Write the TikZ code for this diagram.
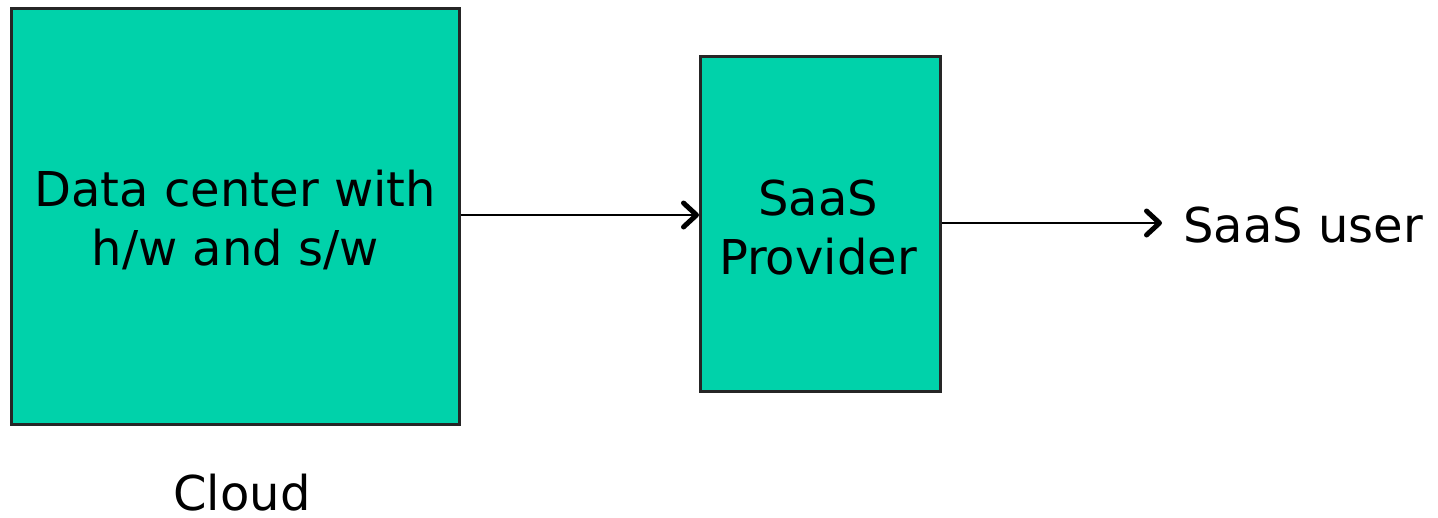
\documentclass[tikz,border=0pt]{standalone}
\usepackage{fontspec}
\setmainfont{DejaVu Sans}
\usetikzlibrary{arrows.meta}
\definecolor{boxfill}{RGB}{0,210,170}
\begin{document}
\begin{tikzpicture}[x=1pt,y=-1pt,
  block/.style={draw=black!85, line width=2.5pt, fill=boxfill, inner sep=0pt},
  label/.style={font=\fontsize{48}{59}\selectfont, align=center, text=black},
  link/.style={line width=2.2pt, -{Straight Barb[length=13pt,width=24pt,line width=5pt,round]}}]
  \useasboundingbox (0,0) rectangle (1438,517);
  % data center block
  \node[block, minimum width=448pt, minimum height=416pt, anchor=north west] (dc) at (10,7) {};
  \node[label] (dctext) at (dc.center |- 0,220) {Data center with\\h/w and s/w};
  % provider block
  \node[block, minimum width=240pt, minimum height=335pt, anchor=north west] (prov) at (699,55) {};
  \node[label] (provtext) at (818,228) {SaaS\\Provider};
  % user and cloud labels
  \node[label, anchor=west, inner sep=0pt] (user) at (1183,225) {SaaS user};
  \node[label, anchor=base, inner sep=0pt] (cloud) at (242,510) {Cloud};
  % connectors
  \coordinate (a1) at (dc.east |- 0,215);
  \draw[link] (a1) -- (prov.west |- a1);
  \coordinate (a2) at (prov.east |- 0,223);
  \coordinate (a2end) at (1162,223);
  \draw[link] (a2) -- (a2end);
\end{tikzpicture}
\end{document}
